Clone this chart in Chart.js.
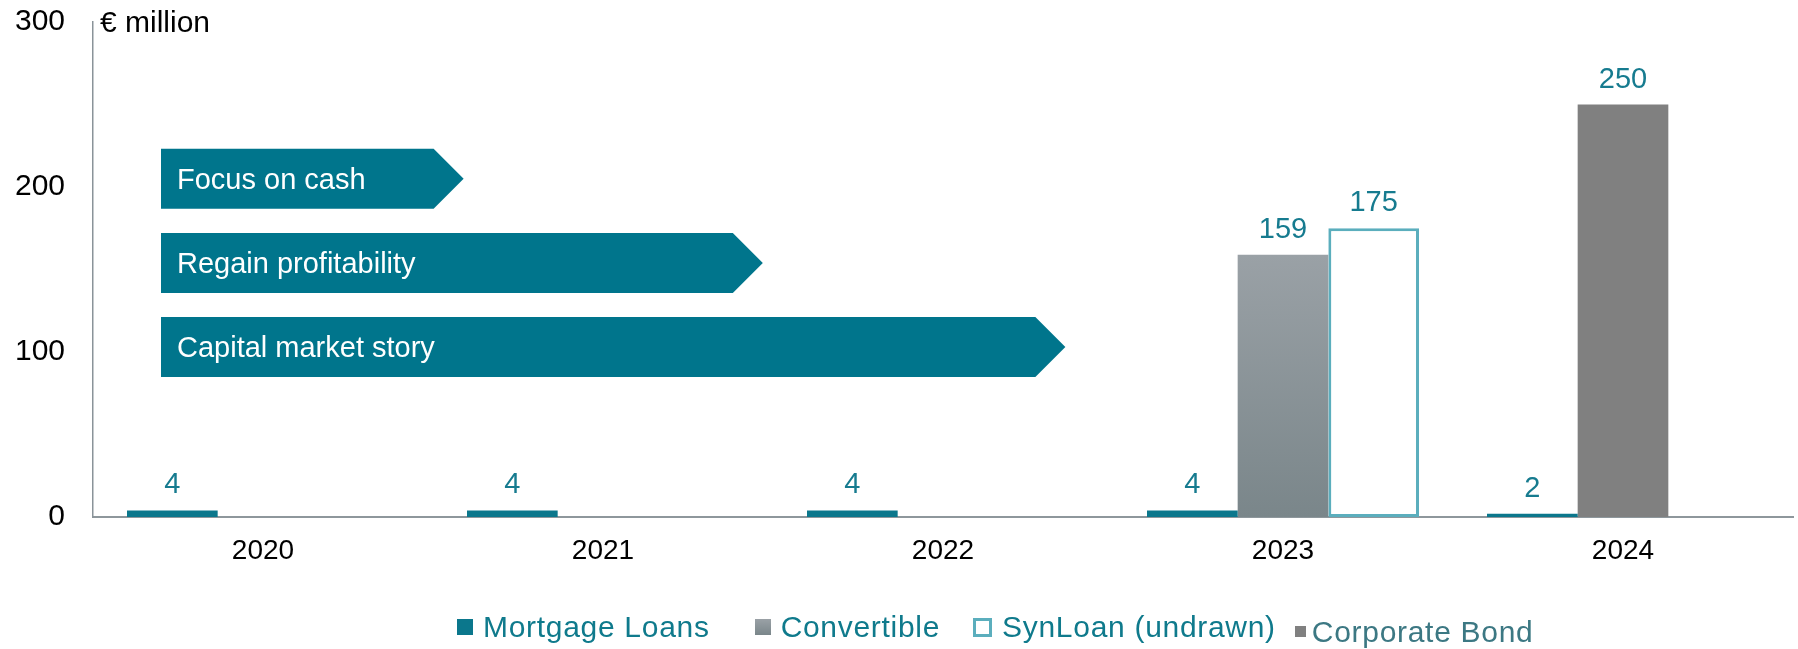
<!DOCTYPE html>
<html>
<head>
<meta charset="utf-8">
<script src="https://cdn.jsdelivr.net/npm/chart.js@4.4.1/dist/chart.umd.min.js"></script>
<style>
  body { margin: 0; background: #fff; }
  #wrap { position: relative; width: 1798px; height: 649px; }
  #legend {
    position: absolute; left: 457px; top: 612px;
    display: flex; align-items: flex-start;
    font: 30px "Liberation Sans", Arial, sans-serif;
    letter-spacing: 0.7px; line-height: 30px; white-space: nowrap;
  }
  .item { display: flex; align-items: flex-start; }
  .box { width: 16px; height: 16px; margin-top: 7px; margin-right: 10px; box-sizing: border-box; }
</style>
</head>
<body>
<div id="wrap">
  <canvas id="chart" width="1798" height="649"></canvas>
  <div id="legend"></div>
</div>
<script>
const years = ['2020', '2021', '2022', '2023', '2024'];
const mortgageLoans = [4, 4, 4, 4, 2];
const convertible = [null, null, null, 159, null];
const synLoan = [null, null, null, 175, null];
const corporateBond = [null, null, null, null, 250];
const yTicks = [0, 100, 200, 300];

// phase arrows: label, level on the value axis, tip position in category units
const arrowLabels = ['Focus on cash', 'Regain profitability', 'Capital market story'];
const arrowLevels = [205, 154, 103];
const arrowTips = [0.59, 1.47, 2.36];
const arrowStart = -0.3;

const TEAL = '#00758C';
const LABEL_TEAL = '#167B8F';
const FONT = '"Liberation Sans", Arial, sans-serif';

function convertibleFill(c) {
  const chart = c.chart;
  if (!chart.chartArea) return '#8C969B';
  const top = chart.scales.y.getPixelForValue(159);
  const g = chart.ctx.createLinearGradient(0, top, 0, chart.chartArea.bottom);
  g.addColorStop(0, '#9AA1A6');
  g.addColorStop(1, '#7A868A');
  return g;
}

const arrows = {
  id: 'arrows',
  beforeDatasetsDraw(chart) {
    const { ctx, scales: { x, y } } = chart;
    ctx.save();
    arrowLabels.forEach((text, i) => {
      const x0 = x.getPixelForValue(arrowStart);
      const tip = x.getPixelForValue(arrowTips[i]);
      const yc = y.getPixelForValue(arrowLevels[i]);
      const h = 30;
      ctx.fillStyle = TEAL;
      ctx.beginPath();
      ctx.moveTo(x0, yc - h);
      ctx.lineTo(tip - h, yc - h);
      ctx.lineTo(tip, yc);
      ctx.lineTo(tip - h, yc + h);
      ctx.lineTo(x0, yc + h);
      ctx.closePath();
      ctx.fill();
      ctx.fillStyle = '#fff';
      ctx.font = '29px ' + FONT;
      ctx.textBaseline = 'alphabetic';
      ctx.textAlign = 'left';
      ctx.fillText(text, x0 + 16, yc + 10);
    });
    ctx.restore();
  }
};

const valueLabels = {
  id: 'valueLabels',
  afterDatasetsDraw(chart) {
    const ctx = chart.ctx;
    ctx.save();
    ctx.font = '29px ' + FONT;
    ctx.fillStyle = LABEL_TEAL;
    ctx.textAlign = 'center';
    ctx.textBaseline = 'alphabetic';
    chart.data.datasets.forEach((ds, i) => {
      chart.getDatasetMeta(i).data.forEach((bar, j) => {
        const v = ds.data[j];
        if (v == null) return;
        ctx.fillText(String(v), bar.x, bar.y - 17);
      });
    });
    // unit label next to the top of the value axis
    ctx.fillStyle = '#000';
    ctx.textAlign = 'left';
    ctx.font = '30px ' + FONT;
    ctx.fillText('€ million', chart.chartArea.left + 7, chart.chartArea.top + 10);
    ctx.restore();
  }
};

const datasets = [
  { label: 'Mortgage Loans', data: mortgageLoans, backgroundColor: '#0B778C', stack: 'a' },
  { label: 'Convertible', data: convertible, backgroundColor: convertibleFill, stack: 'b' },
  { label: 'SynLoan (undrawn)', data: synLoan, backgroundColor: '#fff', borderColor: '#5BAEBD',
    borderWidth: 3, borderSkipped: false, stack: 'c' },
  { label: 'Corporate Bond', data: corporateBond, backgroundColor: '#808080', stack: 'b' }
];

new Chart(document.getElementById('chart'), {
  type: 'bar',
  data: { labels: years, datasets: datasets },
  options: {
    responsive: false,
    animation: false,
    devicePixelRatio: 1,
    categoryPercentage: 0.8,
    barPercentage: 1,
    layout: { padding: { top: 22, right: 5, left: 0, bottom: 0 } },
    plugins: { legend: { display: false }, tooltip: { enabled: false } },
    scales: {
      x: {
        grid: { display: false, drawTicks: false },
        border: { display: true, color: '#8E979C', width: 2 },
        ticks: { color: '#000', font: { family: FONT, size: 28 }, padding: 17 },
        afterFit(scale) { scale.height = 132; }
      },
      y: {
        stacked: false,
        min: 0, max: 300,
        grid: { display: false, drawTicks: false },
        border: { display: true, color: '#8A9399', width: 1.5 },
        afterBuildTicks(scale) { scale.ticks = yTicks.map(v => ({ value: v })); },
        ticks: { color: '#000', font: { family: FONT, size: 30 }, padding: 28 },
        afterFit(scale) {
          scale.width = 93;
          scale.paddingTop = 0;
          scale.paddingBottom = 0;
        }
      }
    }
  },
  plugins: [arrows, valueLabels]
});

// legend built from the same series
const swatches = [
  { background: '#0B778C' },
  { background: 'linear-gradient(#9AA1A6, #7A868A)' },
  { background: '#fff', border: '3px solid #5BAEBD', width: '19px', height: '19px', marginTop: '6px' },
  { background: '#808080', width: '11px', height: '11px', marginTop: '14px', marginRight: '6px' }
];
const gaps = [0, 45, 33, 19];
const legend = document.getElementById('legend');
datasets.forEach((ds, i) => {
  const item = document.createElement('div');
  item.className = 'item';
  item.style.marginLeft = gaps[i] + 'px';
  const box = document.createElement('span');
  box.className = 'box';
  Object.assign(box.style, swatches[i]);
  const txt = document.createElement('span');
  txt.textContent = ds.label;
  txt.style.color = i === 3 ? '#3C7883' : '#0F7A8C';
  if (i === 3) txt.style.marginTop = '5px';
  item.appendChild(box);
  item.appendChild(txt);
  legend.appendChild(item);
});
</script>
</body>
</html>
